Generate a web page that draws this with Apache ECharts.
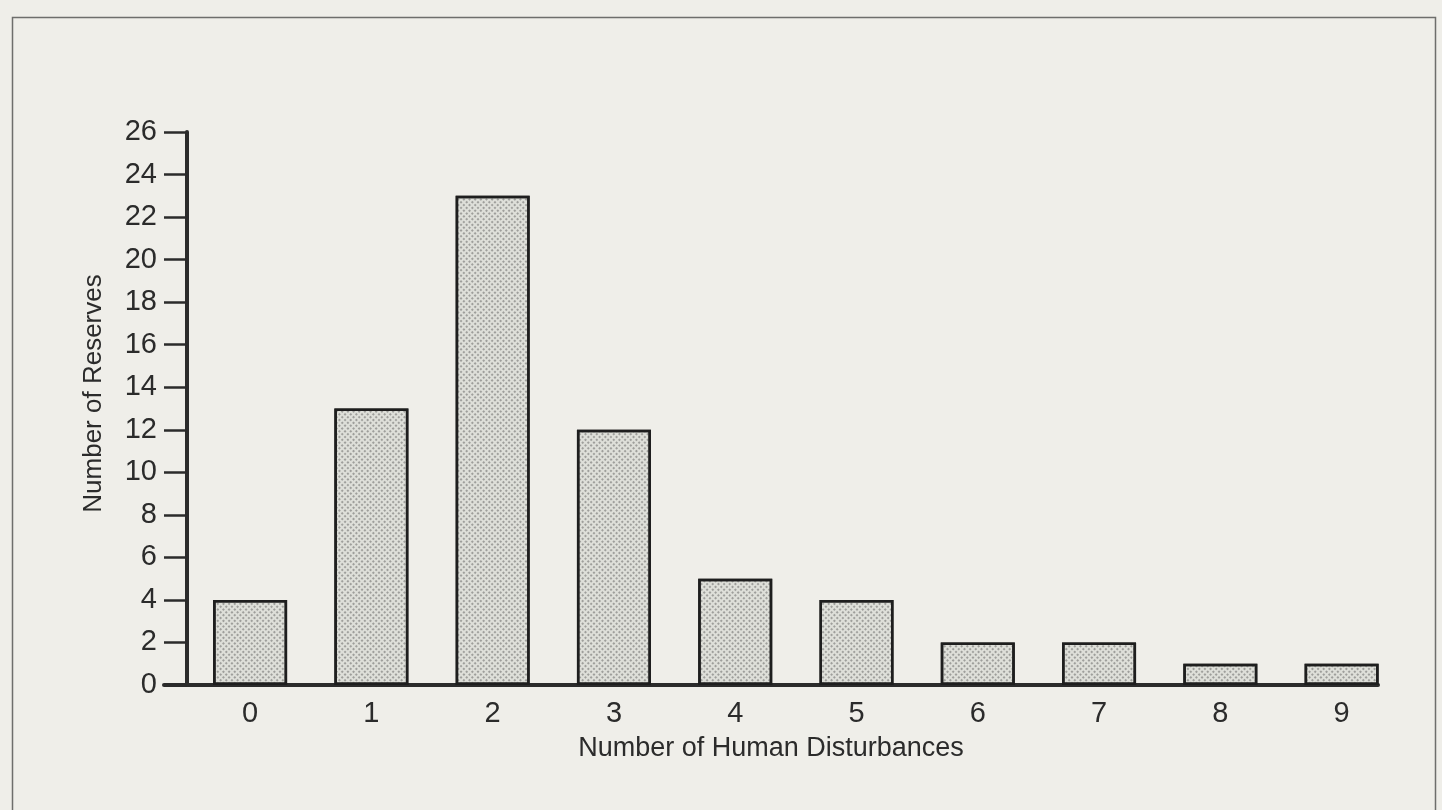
<!DOCTYPE html>
<html>
<head>
<meta charset="utf-8">
<script src="https://cdn.jsdelivr.net/npm/echarts@6/dist/echarts.min.js"></script>
<style>
    html, body { margin: 0; padding: 0; background: #efeee9; }
    #chart { width: 1442px; height: 810px; }
</style>
</head>
<body>
<div id="chart"></div>
<script>
    // number of human disturbances per reserve
    var disturbances = [0, 1, 2, 3, 4, 5, 6, 7, 8, 9];
    var reserves = [4, 13, 23, 12, 5, 4, 2, 2, 1, 1];

    var myChart = echarts.init(document.getElementById('chart'));
    var font = 'Liberation Sans, Arial, sans-serif';
    var ink = '#2b2b2b';

    var option = {
        backgroundColor: '#efeee9',
        animation: false,
        graphic: [{
            type: 'rect',
            left: 10,
            top: 15,
            shape: { width: 1423, height: 830 },
            style: { fill: 'none', stroke: '#6e6e6c', lineWidth: 1.5 },
            silent: true
        }],
        grid: {
            left: 164,
            right: 1442 - 1378,
            top: 132,
            bottom: 810 - 685
        },
        xAxis: {
            type: 'value',
            min: -0.71,
            max: 9.3,
            name: 'Number of Human Disturbances',
            nameLocation: 'middle',
            nameGap: 50,
            nameTextStyle: { fontFamily: font, fontSize: 27, color: ink },
            axisLine: { show: true, onZero: false, lineStyle: { color: ink, width: 4 } },
            axisTick: { show: false },
            splitLine: { show: false },
            axisLabel: {
                customValues: disturbances,
                margin: 14,
                fontFamily: font,
                fontSize: 29,
                color: ink
            }
        },
        yAxis: {
            type: 'value',
            min: 0,
            max: 26,
            interval: 2,
            offset: -23,
            name: 'Number of Reserves',
            nameLocation: 'middle',
            nameGap: 80,
            nameTextStyle: { fontFamily: font, fontSize: 26, color: ink, padding: [0, 0, 0, 30] },
            axisLine: { show: true, onZero: false, lineStyle: { color: ink, width: 4 } },
            axisTick: { show: true, inside: false, length: 23, lineStyle: { color: ink, width: 2.5 } },
            splitLine: { show: false },
            axisLabel: {
                margin: 30,
                fontFamily: font,
                fontSize: 29,
                color: ink
            }
        },
        series: [{
            type: 'bar',
            barWidth: 74,
            data: disturbances.map(function (d, i) { return [d, reserves[i]]; }),
            itemStyle: {
                color: '#dedfd9',
                borderColor: '#1e1e1e',
                borderWidth: 2.5,
                decal: {
                    symbol: 'rect',
                    symbolSize: 0.7,
                    dashArrayX: [1.5, 1.5],
                    dashArrayY: [1.5, 1.5],
                    color: 'rgba(70,70,70,0.8)',
                    rotation: Math.PI / 4
                }
            }
        }]
    };
    myChart.setOption(option);
</script>
</body>
</html>
